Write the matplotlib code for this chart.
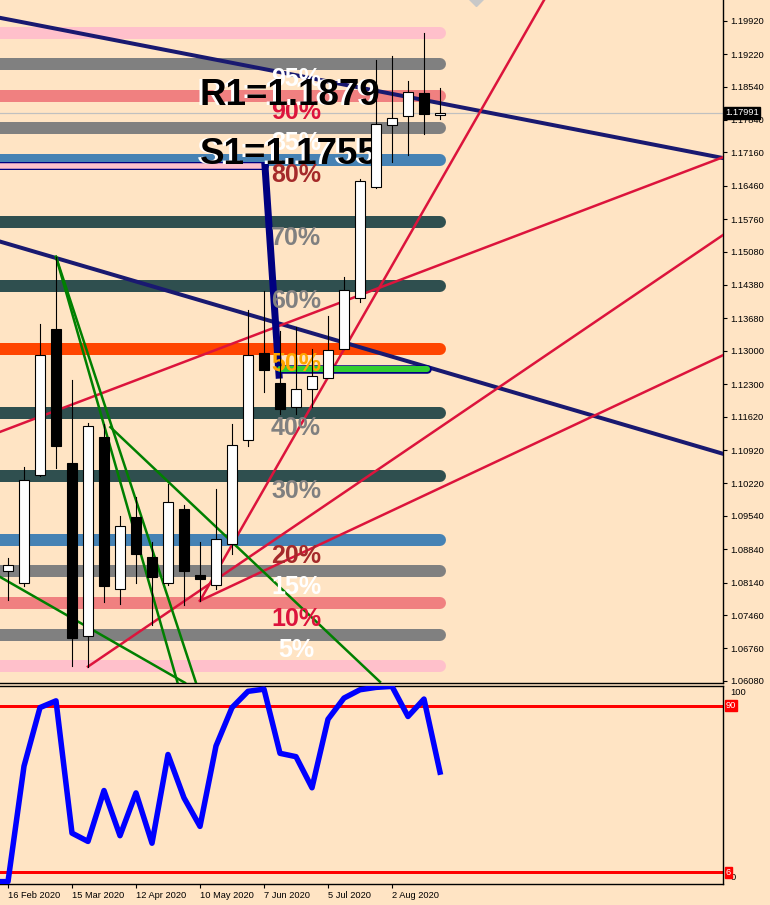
import numpy as np
import matplotlib.pyplot as plt
from matplotlib.patches import Rectangle
from matplotlib.transforms import blended_transform_factory, offset_copy

plt.rcParams['font.family'] = ['Liberation Sans', 'DejaVu Sans']

# weekly candles, bar 0 = week of 16 Feb 2020
opens  = [1.0839, 1.0814, 1.1040, 1.1346, 1.1065, 1.0703, 1.1119, 1.0800, 1.0952, 1.0868,
          1.0813, 1.0968, 1.0831, 1.0810, 1.0896, 1.1114, 1.1295, 1.1232, 1.1183, 1.1220,
          1.1244, 1.1304, 1.1411, 1.1643, 1.1773, 1.1792, 1.1840, 1.1794]
highs  = [1.0866, 1.1056, 1.1356, 1.1497, 1.1239, 1.1149, 1.1147, 1.0954, 1.0993, 1.0899,
          1.1021, 1.0976, 1.0899, 1.1010, 1.1147, 1.1386, 1.1425, 1.1341, 1.1349, 1.1304,
          1.1373, 1.1455, 1.1660, 1.1909, 1.1917, 1.1866, 1.1966, 1.1850]
lows   = [1.0778, 1.0807, 1.1038, 1.1054, 1.0639, 1.0638, 1.0774, 1.0769, 1.0814, 1.0725,
          1.0809, 1.0767, 1.0776, 1.0801, 1.0873, 1.1101, 1.1213, 1.1168, 1.1168, 1.1183,
          1.1243, 1.1303, 1.1403, 1.1641, 1.1696, 1.1711, 1.1755, 1.1785]
closes = [1.0850, 1.1029, 1.1291, 1.1100, 1.0698, 1.1142, 1.0807, 1.0932, 1.0873, 1.0826,
          1.0982, 1.0839, 1.0821, 1.0905, 1.1102, 1.1291, 1.1260, 1.1179, 1.1219, 1.1248,
          1.1301, 1.1428, 1.1657, 1.1775, 1.1787, 1.1842, 1.1796, 1.1799]
last_price = 1.17991

# oscillator (bar -1 .. 27)
osc_idx = list(range(-1, 28))
osc_val = [1.2, 1.2, 59.5, 89.1, 92.5, 25.7, 21.5, 47.2, 24.4, 46.0, 20.6, 65.4, 43.5, 29.1, 69.7,
           89.1, 97.3, 98.4, 66.0, 64.3, 48.6, 83.2, 93.9, 98.1, 99.3, 99.8, 84.6, 93.4, 56.5]
osc_levels = [90, 6]

date_idx = [0, 4, 8, 12, 16, 20, 24]
date_labels = ['16 Feb 2020', '15 Mar 2020', '12 Apr 2020', '10 May 2020',
               '7 Jun 2020', '5 Jul 2020', '2 Aug 2020']

price_ticks = [1.19920, 1.19220, 1.18540, 1.17840, 1.17160, 1.16460, 1.15760, 1.15080,
               1.14380, 1.13680, 1.13000, 1.12300, 1.11620, 1.10920, 1.10220, 1.09540,
               1.08840, 1.08140, 1.07460, 1.06760, 1.06080]

# fibo levels
fib_price = [1.1966, 1.1902, 1.1834, 1.1768, 1.1701, 1.1569, 1.1436, 1.1304,
             1.1170, 1.1038, 1.0903, 1.0838, 1.0771, 1.0705, 1.0639]
fib_text = ['', '95%', '90%', '85%', '80%', '70%', '60%', '50%',
            '40%', '30%', '20%', '15%', '10%', '5%', '']
fib_band = ['pink', 'gray', 'lightcoral', 'gray', 'steelblue', 'darkslategray', 'darkslategray',
            'orangered', 'darkslategray', 'darkslategray', 'steelblue', 'gray', 'lightcoral',
            'gray', 'pink']
fib_tcol = ['white', 'white', 'crimson', 'white', 'brown', 'gray', 'gray', 'orange',
            'gray', 'gray', 'brown', 'white', 'crimson', 'white', 'white']

# trend lines: (bar, price) pairs
navy_lines = [[(-0.5, 1.1998), (44.7, 1.1704)],
              [(-0.5, 1.1529), (44.7, 1.1084)]]
red_lines = [[(-0.5, 1.1130), (44.7, 1.1706)],
             [(5.0, 1.0638), (44.7, 1.1543)],
             [(12.0, 1.0776), (44.7, 1.1291)],
             [(12.0, 1.0776), (33.5, 1.2035)]]
green_lines = [[(3.0, 1.1497), (10.6, 1.0604)],
               [(3.0, 1.1497), (11.75, 1.0604)],
               [(6.4, 1.1140), (23.25, 1.0606)],
               [(-0.5, 1.0826), (11.06, 1.0604)]]

s1_path = [(-1.0, 1.1688), (16.06, 1.1688), (16.94, 1.1249)]
green_bar = [(17.0, 1.1262), (26.2, 1.1262)]

bg = '#FFE4C4'
px = 0.72

fig = plt.figure(figsize=(7.7, 9.05), dpi=100)
fig.patch.set_facecolor(bg)
ax = fig.add_axes([0, 0.2453, 0.939, 0.7547])
ax2 = fig.add_axes([0, 0.0232, 0.939, 0.2188], sharex=ax)
for a in (ax, ax2):
    a.set_facecolor(bg)
    a.spines['left'].set_visible(False)
    for s in a.spines.values():
        s.set_linewidth(1.0)

ax.spines['top'].set_visible(False)
ax.set_xlim(-0.5, 44.69)
ax.set_ylim(1.06036, 1.20354)

# fibo bands + labels
for p, t, bc, tc in zip(fib_price, fib_text, fib_band, fib_tcol):
    ax.plot([-1, 27], [p, p], color=bc, lw=12 * px, solid_capstyle='round', zorder=2)
    if t:
        ax.annotate(t, (18, p), xytext=(0, -15.5 * px), textcoords='offset points',
                    ha='center', va='center', fontsize=18, fontweight='bold', color=tc, zorder=5)

for (x0, y0), (x1, y1) in navy_lines:
    ax.plot([x0, x1], [y0, y1], color='#191970', lw=4 * px, zorder=3)
for (x0, y0), (x1, y1) in red_lines:
    ax.plot([x0, x1], [y0, y1], color='crimson', lw=2.5 * px, zorder=3)
for (x0, y0), (x1, y1) in green_lines:
    ax.plot([x0, x1], [y0, y1], color='green', lw=2.5 * px, zorder=3)

ax.axhline(last_price, color='#C0C0C0', lw=1.2 * px, zorder=2.5)

# S1 marker line
sx, sy = zip(*s1_path)
ax.plot(sx[:2], sy[:2], color='navy', lw=8 * px, solid_capstyle='round', zorder=4)
ax.plot(sx[:2], sy[:2], color='pink', lw=5.5 * px, solid_capstyle='round', zorder=4)
ax.plot(sx[1:], sy[1:], color='navy', lw=7 * px, zorder=4)
gx, gy = zip(*green_bar)
ax.plot(gx, gy, color='navy', lw=8.5 * px, solid_capstyle='round', zorder=4)
ax.plot(gx, gy, color='limegreen', lw=6 * px, solid_capstyle='round', zorder=4)

ax.plot([29.25], [1.2041], marker='D', ms=9, color='#C8C8C8', zorder=4)

# R1 / S1 texts with white shadow
for txt, y in [('R1=1.1879', 1.1836), ('S1=1.1755', 1.1711)]:
    sh = offset_copy(ax.transData, fig=fig, x=-3, y=0, units='dots')
    ax.text(12, y, txt, transform=sh, fontsize=26.5, fontweight='bold', color='white',
            ha='left', va='center', zorder=5.5)
    ax.text(12, y, txt, fontsize=26.5, fontweight='bold', color='black',
            ha='left', va='center', zorder=5.6)

# candles
w = 0.62
for i in range(len(opens)):
    o, h, l, c = opens[i], highs[i], lows[i], closes[i]
    ax.plot([i, i], [l, h], color='black', lw=1.1 * px, zorder=6)
    col = 'white' if c >= o else 'black'
    ax.add_patch(Rectangle((i - w / 2, min(o, c)), w, max(abs(c - o), 0.0003),
                           facecolor=col, edgecolor='black', lw=1.1 * px, zorder=7))

ax.yaxis.tick_right()
ax.set_yticks(price_ticks)
ax.set_yticklabels(['%.5f' % v for v in price_ticks])
ax.tick_params(axis='y', direction='out', length=3, width=0.8, labelsize=6.7, pad=2)
ax.tick_params(axis='x', bottom=False, labelbottom=False)

bt = blended_transform_factory(ax.transAxes, ax.transData)
ax.text(1.003, last_price, '%.5f' % last_price, transform=bt, color='white', fontsize=6.7,
        ha='left', va='center', clip_on=False, zorder=10,
        bbox=dict(boxstyle='square,pad=0.15', fc='black', ec='black'))

# oscillator panel
ax2.set_ylim(0, 100)
for lv in osc_levels:
    ax2.axhline(lv, color='red', lw=3 * px, zorder=2)
ax2.plot(osc_idx, osc_val, color='blue', lw=5.5 * px, zorder=3)
ax2.set_yticks([])
bt2 = blended_transform_factory(ax2.transAxes, ax2.transData)
ax2.text(1.01, 99, '100', transform=bt2, fontsize=6.7, ha='left', va='top', clip_on=False)
ax2.text(1.01, 1, '0', transform=bt2, fontsize=6.7, ha='left', va='bottom', clip_on=False)
for lv in osc_levels:
    ax2.text(1.004, lv, str(lv), transform=bt2, fontsize=6.7, color='white', ha='left',
             va='center', clip_on=False, zorder=10,
             bbox=dict(boxstyle='square,pad=0.12', fc='red', ec='red'))

ax2.set_xticks(date_idx)
ax2.set_xticklabels(date_labels, ha='left', fontsize=6.7)
ax2.tick_params(axis='x', direction='out', length=3, width=0.8, pad=2)

fig.savefig('out.png', dpi=100, facecolor=bg)
